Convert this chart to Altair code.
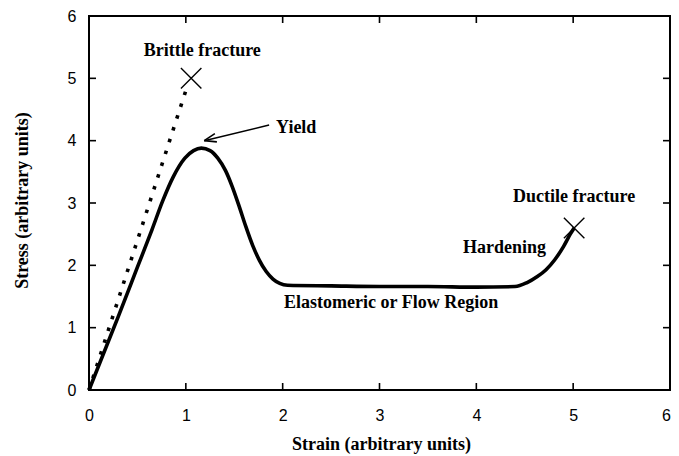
import altair as alt
import pandas as pd

# ---- data ----
solid_x = [0.0, 0.3, 0.5, 0.65, 0.76, 0.87, 0.99, 1.08, 1.16, 1.25, 1.33, 1.41, 1.48,
           1.55, 1.62, 1.69, 1.76, 1.83, 1.90, 1.97, 2.05, 2.5, 3.0, 3.5, 4.0, 4.4,
           4.52, 4.63, 4.72, 4.81, 4.9, 4.97, 5.01]
solid_y = [0.0, 1.17, 1.97, 2.57, 3.03, 3.42, 3.72, 3.84, 3.88, 3.84, 3.72, 3.52, 3.26,
           2.95, 2.62, 2.32, 2.08, 1.90, 1.78, 1.71, 1.68, 1.67, 1.66, 1.66, 1.65, 1.66,
           1.72, 1.82, 1.93, 2.09, 2.30, 2.50, 2.60]

brittle_x = [0.0, 1.02]
brittle_y = [0.0, 4.90]

fracture_x = [1.055, 5.01]
fracture_y = [5.0, 2.6]

arrow_x = [1.86, 1.19]
arrow_y = [4.25, 4.00]

label_text = ["Brittle fracture", "Yield", "Ductile fracture", "Hardening",
              "Elastomeric or Flow Region"]
label_x = [1.17, 2.14, 5.01, 4.29, 3.12]
label_y = [5.44, 4.20, 3.10, 2.28, 1.40]

tick_values = [1, 2, 3, 4, 5]
axis_values = [0, 1, 2, 3, 4, 5, 6]

W, H = 581, 374
TL = 7  # tick length

solid_df = pd.DataFrame({"x": solid_x, "y": solid_y})
brittle_df = pd.DataFrame({"x": brittle_x, "y": brittle_y})
frac_df = pd.DataFrame({"x": fracture_x, "y": fracture_y})
arrow_df = pd.DataFrame({"x": arrow_x, "y": arrow_y})
head_df = arrow_df.iloc[[1]]
label_df = pd.DataFrame({"t": label_text, "x": label_x, "y": label_y})
tick_df = pd.DataFrame({"v": tick_values})

xs = alt.Scale(domain=[0, 6], nice=False, zero=False)
ys = alt.Scale(domain=[0, 6], nice=False, zero=False)

xaxis = alt.Axis(values=axis_values, title="Strain (arbitrary units)", labelFlush=False,
                 labelPadding=17, titleX=292, titleY=59, titleBaseline="alphabetic",
                 format="d",
                 labelOffset={"condition": {"test": "datum.value == 6", "value": -4}, "value": 0})
yaxis = alt.Axis(values=axis_values, title="Stress (arbitrary units)", labelFlush=False,
                 labelPadding=13, titleX=-62, titleY=184, titleBaseline="alphabetic",
                 format="d")

X = alt.X("x:Q", scale=xs, axis=xaxis)
Y = alt.Y("y:Q", scale=ys, axis=yaxis)

solid = alt.Chart(solid_df).mark_line(color="black", strokeWidth=3.6,
                                      interpolate="monotone").encode(x=X, y=Y)
brittle = alt.Chart(brittle_df).mark_line(color="black", strokeWidth=3.6,
                                          strokeDash=[3.5, 8.9], strokeCap="butt").encode(x=X, y=Y)
xmark = alt.Chart(frac_df).mark_point(shape="M-1,-1L1,1M-1,1L1,-1", size=420, filled=False,
                                      color="black", strokeWidth=1.4, opacity=1).encode(x=X, y=Y)
shaft = alt.Chart(arrow_df).mark_line(color="black", strokeWidth=1.5).encode(x=X, y=Y)
head = alt.Chart(head_df).mark_point(shape="M0,0L2,-0.7M0,0L2,0.7", size=144, filled=False,
                                     angle=346, color="black", strokeWidth=1.6,
                                     opacity=1).encode(x=X, y=Y)
labels = alt.Chart(label_df).mark_text(font="Liberation Serif", fontWeight="bold", fontSize=18,
                                       color="black", baseline="middle").encode(
    x=X, y=Y, text="t:N")

vt = alt.X("v:Q", scale=xs, axis=xaxis)
ht = alt.Y("v:Q", scale=ys, axis=yaxis)
tick_b = alt.Chart(tick_df).mark_rule(color="black", strokeWidth=1.6).encode(
    x=vt, y=alt.value(H), y2=alt.value(H - TL))
tick_t = alt.Chart(tick_df).mark_rule(color="black", strokeWidth=1.6).encode(
    x=vt, y=alt.value(0), y2=alt.value(TL))
tick_l = alt.Chart(tick_df).mark_rule(color="black", strokeWidth=1.6).encode(
    y=ht, x=alt.value(0), x2=alt.value(TL))
tick_r = alt.Chart(tick_df).mark_rule(color="black", strokeWidth=1.6).encode(
    y=ht, x=alt.value(W), x2=alt.value(W - TL))

chart = alt.layer(solid, brittle, xmark, shaft, head, labels,
                  tick_b, tick_t, tick_l, tick_r).properties(
    width=W, height=H,
    autosize=alt.AutoSizeParams(type="none"),
    padding={"left": 81, "top": 8, "right": 1, "bottom": 70},
).configure_view(stroke="black", strokeWidth=2).configure_axis(
    grid=False, ticks=False, domain=False,
    labelFont="Liberation Sans", labelFontSize=16, labelColor="black",
    titleFont="Liberation Serif", titleFontWeight="bold", titleFontSize=18, titleColor="black",
)

chart.save("out.html", embed_options={"renderer": "svg", "actions": False})
